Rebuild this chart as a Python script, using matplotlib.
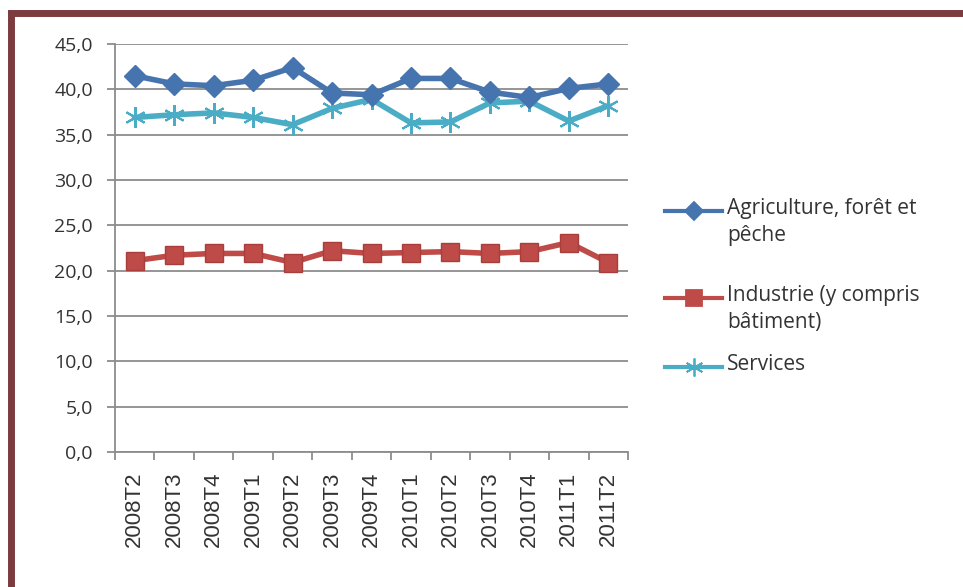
import numpy as np
import matplotlib.pyplot as plt
from matplotlib.lines import Line2D
from matplotlib.patches import Rectangle

quarters = ["2008T2", "2008T3", "2008T4", "2009T1", "2009T2", "2009T3", "2009T4",
            "2010T1", "2010T2", "2010T3", "2010T4", "2011T1", "2011T2"]
agriculture = [41.5, 40.6, 40.4, 41.0, 42.4, 39.6, 39.4, 41.2, 41.2, 39.7, 39.1, 40.1, 40.6]
industrie = [21.1, 21.7, 21.9, 21.9, 20.9, 22.2, 21.9, 22.0, 22.1, 21.9, 22.1, 23.1, 20.9]
services = [36.9, 37.2, 37.4, 36.9, 36.1, 37.9, 38.9, 36.3, 36.4, 38.5, 38.7, 36.5, 38.2]
yticks = [0, 5, 10, 15, 20, 25, 30, 35, 40, 45]

labels = ["Agriculture, forêt et\npêche", "Industrie (y compris\nbâtiment)", "Services"]
colors = ["#4674ae", "#be4b48", "#4bacc6"]
markers = ["D", "s", (6, 2, 0)]

W, H = 963, 587
fig = plt.figure(figsize=(W / 100, H / 100), dpi=100)

# dark red frame around the chart
fig.patches.append(Rectangle((10.5 / W, -0.02), 1.05, (H - 13) / H + 0.02,
                             transform=fig.transFigure, fill=False,
                             edgecolor="#7b3b3f", linewidth=5))

ax = fig.add_axes([115 / W, (H - 452) / H, 513 / W, 408 / H])
x = np.arange(len(quarters))

ax.plot(x, agriculture, color=colors[0], lw=4, marker="D", ms=11,
        mfc=colors[0], mec=colors[0], zorder=4)
ax.plot(x, industrie, color=colors[1], lw=4, marker="s", ms=13,
        mfc=colors[1], mec="#a83f3c", zorder=4)
ax.plot(x, services, color=colors[2], lw=4, marker=(6, 2, 0), ms=15,
        mec=colors[2], mew=1.5, zorder=3)

ax.set_ylim(0, 45)
ax.set_xlim(-0.5, len(quarters) - 0.5)
ax.set_yticks(yticks)
ax.set_yticklabels([f"{v:.1f}".replace(".", ",") for v in yticks],
                   fontsize=14, color="#333333", family="Open Sans")
ax.yaxis.grid(True, color="#8c8c8c", lw=1.3)
ax.set_axisbelow(True)

ax.set_xticks(x)
ax.set_xticklabels(quarters, rotation=90, fontsize=16, color="#333333",
                   family="Liberation Sans")
ax.set_xticks(np.arange(-0.5, len(quarters)), minor=True)
ax.tick_params(axis="x", which="major", length=0, pad=14)
ax.tick_params(axis="x", which="minor", length=6, color="#8c8c8c", width=1.3)
ax.tick_params(axis="y", length=6, color="#8c8c8c", width=1.3, pad=10)

for s in ["top", "right"]:
    ax.spines[s].set_visible(False)
for s in ["left", "bottom"]:
    ax.spines[s].set_color("#8c8c8c")
    ax.spines[s].set_linewidth(1.3)

# legend drawn by hand so the key sits on the first text line
leg_y = [211, 298, 367]
for lab, c, m, yy, ms in zip(labels, colors, markers, leg_y, [9, 11, 13]):
    yf = (H - yy) / H
    fig.add_artist(Line2D([665 / W, 722 / W], [yf, yf], color=c, lw=3,
                          transform=fig.transFigure))
    fig.add_artist(Line2D([693.5 / W], [yf], color=c, marker=m, ms=ms,
                          mec=c, mew=1.3, transform=fig.transFigure))
    fig.text(727 / W, yf + 13 / H, lab, fontsize=15, family="Open Sans",
             color="#333333", va="top", ha="left", linespacing=1.4,
             transform=fig.transFigure)

fig.savefig("out.png", dpi=100)
